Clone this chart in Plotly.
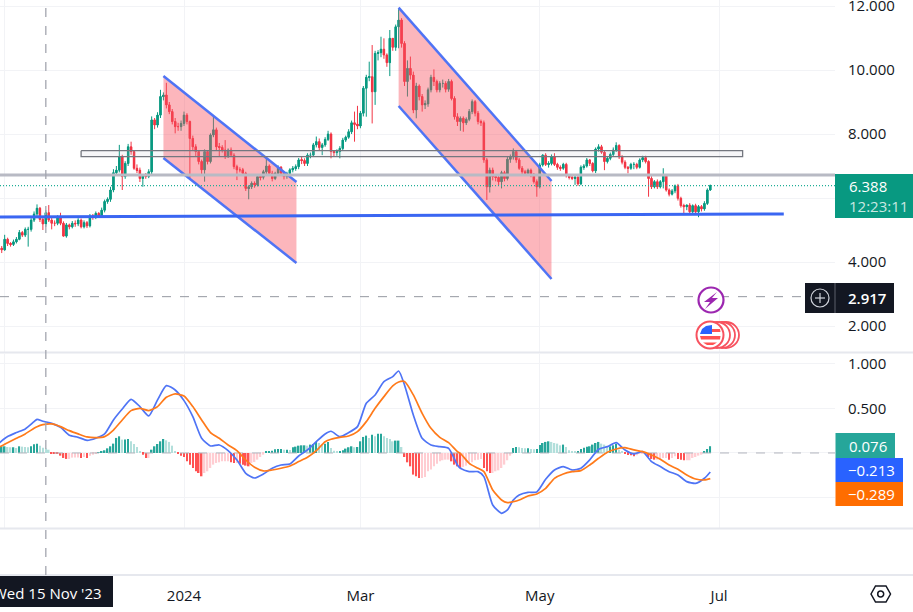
"""Daily candles with channel drawings and a MACD pane, TradingView look."""

import pandas as pd
import plotly.graph_objects as go

# --- daily candles, 30 Oct 2023 to 28 Jun 2024 ---
start_date = "2023-10-30"

opens = [
    4.48, 4.43, 4.38, 4.71, 4.58, 4.55, 4.63, 4.71, 4.92, 4.84,
    5.02, 5.02, 5.31, 5.50, 5.68, 5.33, 5.19, 5.54, 5.31, 5.21,
    5.21, 5.40, 5.21, 4.81, 5.16, 5.10, 5.21, 5.19, 5.31, 5.10,
    5.23, 5.13, 5.44, 5.40, 5.52, 5.44, 5.62, 5.89, 5.96, 6.25,
    6.79, 6.87, 7.29, 6.67, 7.08, 7.60, 7.45, 6.93, 6.87, 6.61,
    6.72, 6.67, 6.82, 8.44, 8.28, 8.59, 9.17, 9.22, 8.91, 8.70,
    8.39, 8.23, 8.23, 8.33, 8.59, 8.39, 7.86, 7.60, 7.45, 7.14,
    6.88, 7.45, 7.14, 7.97, 8.13, 7.60, 7.58, 7.50, 7.31, 7.50,
    7.34, 6.98, 6.88, 6.88, 6.77, 6.30, 6.35, 6.46, 6.41, 6.67,
    6.65, 6.82, 7.00, 6.77, 6.61, 6.77, 6.96, 6.77, 6.67, 6.77,
    6.88, 6.93, 6.98, 7.19, 7.17, 7.08, 7.34, 7.34, 7.66, 7.76,
    7.58, 7.66, 7.83, 8.00, 7.45, 7.42, 7.45, 7.55, 7.81, 7.90,
    8.07, 8.35, 8.31, 8.25, 8.65, 9.43, 9.77, 9.79, 9.32, 10.52,
    10.54, 10.65, 10.47, 10.23, 10.99, 10.71, 11.35, 11.56, 10.83, 9.64,
    10.05, 9.84, 8.75, 9.50, 9.17, 8.91, 8.94, 9.38, 9.77, 9.64,
    9.38, 9.58, 9.58, 9.40, 9.64, 9.11, 8.54, 8.39, 8.49, 8.35,
    8.46, 8.70, 9.01, 8.65, 8.39, 8.35, 7.19, 6.35, 6.87, 6.67,
    6.64, 6.51, 6.79, 6.61, 7.21, 7.29, 7.45, 7.19, 6.93, 6.82,
    6.77, 6.87, 6.72, 6.51, 6.35, 7.03, 7.34, 7.05, 7.08, 7.29,
    7.05, 6.96, 6.93, 7.05, 6.70, 6.65, 6.62, 6.65, 6.44, 6.96,
    7.00, 7.19, 7.08, 6.85, 7.53, 7.60, 7.43, 7.14, 7.24, 7.36,
    7.50, 7.64, 7.29, 7.12, 6.96, 6.93, 7.05, 7.05, 6.96, 7.19,
    7.26, 7.14, 6.61, 6.35, 6.51, 6.35, 6.51, 6.70, 6.25, 6.12,
    6.22, 6.38, 5.99, 5.76, 5.73, 5.78, 5.57, 5.76, 5.57, 5.73,
    5.66, 5.83, 6.25,
]
highs = [
    4.55, 4.50, 4.85, 4.76, 4.62, 4.70, 4.78, 5.00, 4.97, 5.08,
    5.10, 5.37, 5.58, 5.80, 5.72, 5.40, 5.62, 5.78, 5.40, 5.30,
    5.46, 5.54, 5.27, 5.22, 5.20, 5.28, 5.30, 5.37, 5.36, 5.30,
    5.28, 5.50, 5.50, 5.58, 5.56, 5.70, 5.95, 6.02, 6.35, 6.90,
    7.00, 7.66, 7.35, 7.15, 7.69, 7.76, 7.50, 7.05, 6.95, 6.75,
    6.78, 6.90, 8.55, 8.50, 8.68, 9.38, 9.30, 9.60, 9.00, 8.78,
    8.50, 8.35, 8.42, 8.70, 8.65, 8.42, 7.95, 7.68, 7.50, 7.20,
    7.52, 7.50, 8.02, 8.59, 8.20, 7.72, 7.65, 7.81, 7.55, 7.58,
    7.40, 7.04, 6.96, 6.94, 6.82, 6.40, 6.52, 6.52, 6.72, 6.72,
    6.88, 7.29, 7.05, 6.85, 6.82, 7.02, 7.00, 6.82, 6.82, 6.93,
    7.00, 7.05, 7.25, 7.28, 7.24, 7.40, 7.42, 7.72, 7.92, 7.86,
    7.72, 7.90, 8.10, 8.05, 7.50, 7.52, 7.62, 7.88, 7.95, 8.15,
    8.42, 8.70, 8.88, 8.72, 9.50, 9.85, 10.26, 10.78, 10.60, 10.62,
    11.04, 10.99, 10.52, 11.25, 10.99, 11.42, 11.90, 11.62, 10.90, 10.30,
    10.42, 9.95, 9.60, 9.55, 9.25, 9.05, 9.45, 9.85, 10.02, 9.70,
    9.65, 9.70, 9.65, 9.72, 9.70, 9.18, 8.65, 8.55, 8.55, 8.52,
    8.78, 9.08, 9.06, 8.72, 8.45, 8.42, 7.25, 6.95, 6.95, 6.75,
    6.70, 6.85, 6.85, 7.28, 7.36, 7.55, 7.50, 7.25, 7.00, 6.88,
    6.92, 6.92, 6.78, 6.58, 7.10, 7.37, 7.40, 7.15, 7.36, 7.40,
    7.10, 7.02, 7.10, 7.10, 6.74, 6.70, 6.70, 6.72, 7.02, 7.06,
    7.25, 7.22, 7.12, 7.58, 7.68, 7.66, 7.48, 7.30, 7.42, 7.58,
    7.74, 7.68, 7.34, 7.18, 7.00, 7.10, 7.12, 7.10, 7.24, 7.32,
    7.32, 7.18, 6.68, 6.56, 6.58, 6.56, 6.93, 6.75, 6.30, 6.28,
    6.42, 6.44, 6.04, 5.82, 5.80, 5.84, 5.80, 5.82, 5.78, 5.78,
    5.90, 6.30, 6.42,
]
lows = [
    4.33, 4.28, 4.35, 4.50, 4.48, 4.50, 4.58, 4.68, 4.78, 4.78,
    4.48, 4.95, 5.25, 5.42, 5.25, 5.00, 5.10, 5.25, 5.02, 5.12,
    5.15, 5.15, 4.79, 4.76, 5.02, 5.05, 5.10, 5.12, 5.05, 5.05,
    5.06, 5.08, 5.32, 5.34, 5.38, 5.40, 5.55, 5.82, 5.88, 6.18,
    6.70, 6.80, 6.25, 6.60, 7.00, 7.35, 6.88, 6.78, 6.50, 6.35,
    6.60, 6.62, 6.75, 8.15, 8.20, 8.50, 9.05, 8.80, 8.62, 8.30,
    8.02, 8.10, 8.10, 8.25, 8.30, 6.61, 7.50, 7.30, 7.05, 6.75,
    6.51, 7.05, 7.08, 7.90, 7.50, 7.30, 7.42, 7.22, 7.25, 7.28,
    6.90, 6.56, 6.80, 6.70, 6.22, 5.96, 6.28, 6.32, 6.36, 6.55,
    6.58, 6.75, 6.70, 6.52, 6.56, 6.70, 6.70, 6.58, 6.60, 6.70,
    6.80, 6.85, 6.90, 7.06, 7.00, 7.00, 7.24, 7.28, 7.58, 7.50,
    7.34, 7.60, 7.78, 7.24, 7.30, 7.32, 7.24, 7.48, 7.75, 7.85,
    8.00, 7.76, 8.15, 8.18, 8.55, 8.54, 9.65, 8.33, 8.91, 10.30,
    10.40, 10.35, 10.10, 9.81, 10.60, 10.60, 10.68, 10.70, 9.50, 9.17,
    9.70, 8.65, 8.49, 9.05, 8.70, 8.78, 8.85, 9.30, 9.50, 9.30,
    9.30, 9.45, 9.30, 9.32, 9.05, 8.45, 8.25, 8.10, 8.07, 8.28,
    8.40, 8.62, 8.55, 8.30, 8.25, 7.10, 5.94, 6.17, 6.55, 6.52,
    6.40, 6.30, 6.52, 6.55, 7.10, 7.20, 7.10, 6.88, 6.75, 6.70,
    6.70, 6.65, 6.45, 6.04, 6.30, 6.98, 7.00, 6.95, 7.02, 7.00,
    6.88, 6.85, 6.88, 6.64, 6.58, 6.56, 6.41, 6.38, 6.40, 6.88,
    6.95, 7.00, 6.80, 6.78, 7.45, 7.38, 6.87, 7.08, 7.18, 7.30,
    7.44, 7.22, 7.05, 6.90, 6.77, 6.88, 6.90, 6.90, 6.92, 7.12,
    7.08, 6.04, 6.28, 6.30, 6.28, 6.30, 6.30, 6.20, 6.05, 6.08,
    6.15, 5.92, 5.70, 5.49, 5.62, 5.52, 5.52, 5.50, 5.40, 5.58,
    5.60, 5.78, 6.22,
]
closes = [
    4.43, 4.38, 4.71, 4.58, 4.55, 4.63, 4.71, 4.92, 4.84, 5.02,
    5.02, 5.31, 5.50, 5.68, 5.33, 5.19, 5.54, 5.31, 5.21, 5.21,
    5.40, 5.21, 4.81, 5.16, 5.10, 5.21, 5.19, 5.31, 5.10, 5.23,
    5.13, 5.44, 5.40, 5.52, 5.44, 5.62, 5.89, 5.96, 6.25, 6.79,
    6.87, 7.29, 6.67, 7.08, 7.60, 7.45, 6.93, 6.87, 6.61, 6.72,
    6.67, 6.82, 8.44, 8.28, 8.59, 9.17, 9.22, 8.91, 8.70, 8.39,
    8.23, 8.23, 8.33, 8.59, 8.39, 7.86, 7.60, 7.45, 7.14, 6.88,
    7.45, 7.14, 7.97, 8.13, 7.60, 7.58, 7.50, 7.31, 7.50, 7.34,
    6.98, 6.88, 6.88, 6.77, 6.30, 6.35, 6.46, 6.41, 6.67, 6.65,
    6.82, 7.00, 6.77, 6.61, 6.77, 6.96, 6.77, 6.67, 6.77, 6.88,
    6.93, 6.98, 7.19, 7.17, 7.08, 7.34, 7.34, 7.66, 7.76, 7.58,
    7.66, 7.83, 8.00, 7.45, 7.42, 7.45, 7.55, 7.81, 7.90, 8.07,
    8.35, 8.31, 8.25, 8.65, 9.43, 9.77, 9.79, 9.32, 10.52, 10.54,
    10.65, 10.47, 10.23, 10.99, 10.71, 11.35, 11.56, 10.83, 9.64, 10.05,
    9.84, 8.75, 9.50, 9.17, 8.91, 8.94, 9.38, 9.77, 9.64, 9.38,
    9.58, 9.58, 9.40, 9.64, 9.11, 8.54, 8.39, 8.49, 8.35, 8.46,
    8.70, 9.01, 8.65, 8.39, 8.35, 7.19, 6.35, 6.87, 6.67, 6.64,
    6.51, 6.79, 6.61, 7.21, 7.29, 7.45, 7.19, 6.93, 6.82, 6.77,
    6.87, 6.72, 6.51, 6.35, 7.03, 7.34, 7.05, 7.08, 7.29, 7.05,
    6.96, 6.93, 7.05, 6.70, 6.65, 6.62, 6.65, 6.44, 6.96, 7.00,
    7.19, 7.08, 6.85, 7.53, 7.60, 7.43, 7.14, 7.24, 7.36, 7.50,
    7.64, 7.29, 7.12, 6.96, 6.93, 7.05, 7.05, 6.96, 7.19, 7.26,
    7.14, 6.61, 6.35, 6.51, 6.35, 6.51, 6.70, 6.25, 6.12, 6.22,
    6.38, 5.99, 5.76, 5.73, 5.78, 5.57, 5.76, 5.57, 5.73, 5.66,
    5.83, 6.25, 6.388,
]

# --- MACD pane ---
macd_hist = [
    0.045, 0.075, 0.075, 0.067, 0.064, 0.064, 0.056, 0.075, 0.071, 0.067,
    0.064, 0.075, 0.097, 0.105, 0.082, 0.060, 0.049, 0.037, -0.004, -0.007,
    -0.011, -0.030, -0.056, -0.067, -0.067, -0.052, -0.052, -0.052, -0.056, -0.045,
    -0.056, -0.030, -0.019, -0.007, 0.002, 0.011, 0.030, 0.052, 0.075, 0.105,
    0.169, 0.187, 0.150, 0.150, 0.157, 0.131, 0.101, 0.067, 0.011, -0.019,
    -0.056, -0.056, 0.037, 0.075, 0.101, 0.131, 0.157, 0.142, 0.124, 0.082,
    0.019, -0.007, -0.030, -0.045, -0.094, -0.131, -0.169, -0.206, -0.225, -0.262,
    -0.225, -0.206, -0.169, -0.131, -0.112, -0.105, -0.094, -0.094, -0.094, -0.105,
    -0.112, -0.112, -0.120, -0.131, -0.142, -0.150, -0.112, -0.101, -0.075, -0.045,
    -0.019, 0.011, 0.019, 0.026, 0.041, 0.045, 0.045, 0.037, 0.037, 0.034,
    0.064, 0.071, 0.082, 0.086, 0.086, 0.082, 0.094, 0.101, 0.124, 0.112,
    0.094, 0.105, 0.124, 0.056, 0.026, 0.011, 0.015, 0.030, 0.049, 0.064,
    0.075, 0.064, 0.067, 0.131, 0.180, 0.195, 0.169, 0.206, 0.187, 0.217,
    0.217, 0.187, 0.169, 0.157, 0.131, 0.139, 0.139, 0.067, -0.045, -0.105,
    -0.150, -0.243, -0.262, -0.281, -0.281, -0.270, -0.206, -0.187, -0.150, -0.120,
    -0.094, -0.082, -0.075, -0.075, -0.094, -0.131, -0.150, -0.169, -0.157, -0.142,
    -0.112, -0.105, -0.082, -0.075, -0.067, -0.169, -0.206, -0.225, -0.225, -0.206,
    -0.195, -0.169, -0.131, -0.082, -0.030, 0.056, 0.067, 0.064, 0.056, 0.052,
    0.052, 0.045, 0.041, 0.045, 0.090, 0.112, 0.124, 0.131, 0.124, 0.112,
    0.105, 0.086, 0.094, 0.067, 0.030, 0.019, 0.015, 0.019, 0.045, 0.060,
    0.071, 0.075, 0.094, 0.112, 0.124, 0.105, 0.094, 0.075, 0.075, 0.086,
    0.105, 0.037, 0.011, -0.011, -0.022, -0.026, -0.037, -0.026, -0.011, -0.002,
    -0.007, -0.045, -0.067, -0.075, -0.075, -0.075, -0.056, -0.056, -0.075, -0.056,
    -0.037, -0.067, -0.075, -0.082, -0.082, -0.082, -0.056, -0.045, -0.030, -0.019,
    0.011, 0.045, 0.076,
]
macd_line_bars = [
    0, 3, 6, 9, 12, 13, 15, 18, 21, 24, 27, 30, 33, 36, 39, 42, 45, 48, 51, 54,
    57, 60, 63, 66, 69, 72, 75, 78, 81, 84, 87, 90, 93, 96, 99, 102, 105, 108, 111, 113,
    116, 119, 122, 125, 128, 131, 134, 136, 138, 141, 144, 147, 150, 153, 156,
    157, 160, 163, 165, 168, 171, 173, 175, 177, 180, 183, 186, 189, 192, 195,
    198, 201, 204, 207, 210, 213, 216, 219, 222, 225, 228, 231, 234, 237, 240, 242,
]
macd_line = [
    0.109, 0.184, 0.229, 0.270, 0.352, 0.378, 0.356, 0.333, 0.288, 0.199,
    0.176, 0.142, 0.165, 0.214, 0.371, 0.494, 0.603, 0.521, 0.416, 0.596,
    0.757, 0.708, 0.588, 0.408, 0.165, 0.079, 0.090, 0.026, -0.079, -0.228,
    -0.281, -0.236, -0.172, -0.135, -0.124, -0.034, 0.034, 0.127, 0.214, 0.244,
    0.184, 0.229, 0.296, 0.558, 0.652, 0.802, 0.858, 0.921, 0.764, 0.427,
    0.165, 0.090, 0.071, 0.052, -0.135,
    -0.172, -0.210, -0.210, -0.266, -0.584, -0.678, -0.640, -0.528, -0.472, -0.442,
    -0.438, -0.296, -0.191, -0.153, -0.191, -0.172, -0.078, 0.041, 0.071, 0.116,
    0.034, -0.011, 0.015, -0.097, -0.153, -0.210, -0.247, -0.322, -0.341, -0.284,
    -0.213,
]
signal_line = [
    0.064, 0.116, 0.165, 0.214, 0.277, 0.295, 0.318, 0.326, 0.296, 0.251,
    0.214, 0.180, 0.172, 0.184, 0.258, 0.371, 0.476, 0.502, 0.476, 0.521,
    0.626, 0.663, 0.640, 0.521, 0.371, 0.229, 0.165, 0.090, 0.026, -0.079,
    -0.161, -0.202, -0.191, -0.172, -0.146, -0.097, -0.049, 0.026, 0.127, 0.154,
    0.176, 0.191, 0.240, 0.352, 0.502, 0.633, 0.753, 0.798, 0.802, 0.652,
    0.446, 0.277, 0.176, 0.116, 0.015,
    -0.004, -0.116, -0.172, -0.210, -0.416, -0.528, -0.558, -0.547, -0.528, -0.483,
    -0.460, -0.397, -0.285, -0.236, -0.210, -0.198, -0.135, -0.060, 0.008, 0.045,
    0.060, 0.034, 0.015, -0.022, -0.071, -0.135, -0.183, -0.247, -0.292, -0.303,
    -0.289,
]

# --- drawings on the price pane ---
channel_1_dates = ["2023-12-25", "2024-02-08 06:00", "2024-02-08 06:00", "2023-12-25"]
channel_1_prices = [9.81, 6.50, 3.97, 7.25]
channel_2_dates = ["2024-03-14", "2024-05-05", "2024-05-05", "2024-03-14"]
channel_2_prices = [11.95, 6.53, 3.47, 8.875]
box_dates = ["2023-11-27", "2024-07-09", "2024-07-09", "2023-11-27", "2023-11-27"]
box_prices = [7.48, 7.48, 7.29, 7.29, 7.48]
resistance_dates = ["2023-10-30", "2024-08-10"]
resistance_prices = [6.72, 6.72]
support_dates = ["2023-10-30", "2024-07-23"]
support_prices = [5.41, 5.50]
last_price = 6.388
cross_price = 2.917
cross_date = "2023-11-15"

# --- axis labels ---
x_range = ["2023-10-30 10:00", "2024-08-09 10:00"]
x_ticks = ["2023-11-01", "2024-01-01", "2024-03-01", "2024-05-01", "2024-07-01"]
x_labels = ["", "2024", "Mar", "May", "Jul"]
price_ticks = [2, 4, 6, 8, 10, 12]
price_labels = ["2.000", "4.000", "", "8.000", "10.000", "12.000"]
macd_ticks = [-0.5, 0, 0.5, 1]
macd_labels = ["", "", "0.500", "1.000"]

WIDTH, HEIGHT = 913, 612
PLOT_RIGHT = 835
FONT = "Open Sans"
INK = "#131722"
UP, DOWN = "#089981", "#f23645"
GRID = "#f2f3f6"
SEP = "#e6e8ee"
BLUE = "#4f74f5"
ORANGE = "#ff7a1a"


def px(x):
    return x / WIDTH


def py(y):
    return 1 - y / HEIGHT


def box_shape(x0, y0, x1, y1, color):
    return dict(type="rect", xref="paper", yref="paper", x0=px(x0), x1=px(x1),
                y0=py(y0), y1=py(y1), fillcolor=color, line=dict(width=0), layer="above")


def disc(cx, cy, r, fill, line_color, width=2):
    return dict(type="circle", xref="paper", yref="paper", x0=px(cx - r), x1=px(cx + r),
                y0=py(cy + r), y1=py(cy - r), fillcolor=fill,
                line=dict(color=line_color, width=width), layer="above")


def outline(points, fill=None, line_color=None, width=1.5):
    path = "M " + " L ".join(f"{px(x):.5f} {py(y):.5f}" for x, y in points) + " Z"
    return dict(type="path", xref="paper", yref="paper", path=path, fillcolor=fill,
                line=dict(color=line_color, width=width if line_color else 0), layer="above")


def label(x, y, text, color="white", size=15, anchor="left", weight=400):
    return dict(xref="paper", yref="paper", x=px(x), y=py(y), text=text, showarrow=False,
                xanchor=anchor, yanchor="middle", align=anchor,
                font=dict(family=FONT, size=size, color=color, weight=weight))


dates = pd.date_range(start_date, periods=len(closes), freq="D")
line_dates = dates[macd_line_bars]

# histogram shades follow the usual rising / falling rule
hist_colors = []
for n, value in enumerate(macd_hist):
    rising = n == 0 or value >= macd_hist[n - 1]
    if value >= 0:
        hist_colors.append("#26a69a" if rising else "#b2dfdb")
    else:
        hist_colors.append("#ffcdd2" if rising else "#ff5252")

fig = go.Figure()

# plotly's candle boxes come out narrow at this density, so bars widen the bodies
body_base = [min(o, c) for o, c in zip(opens, closes)]
body_size = [abs(c - o) for o, c in zip(opens, closes)]
body_colors = [UP if c >= o else DOWN for o, c in zip(opens, closes)]
fig.add_trace(go.Bar(
    x=dates, y=body_size, base=body_base, width=62000000,
    marker=dict(color=body_colors, line=dict(width=0)), xaxis="x", yaxis="y",
))
fig.add_trace(go.Candlestick(
    x=dates, open=opens, high=highs, low=lows, close=closes,
    increasing=dict(line=dict(color=UP, width=1), fillcolor=UP),
    decreasing=dict(line=dict(color=DOWN, width=1), fillcolor=DOWN),
    xaxis="x", yaxis="y", hoverinfo="skip",
))

# channels sit on top of the candles
for ch_dates, ch_prices in [(channel_1_dates, channel_1_prices), (channel_2_dates, channel_2_prices)]:
    fig.add_trace(go.Scatter(
        x=ch_dates, y=ch_prices, mode="lines", fill="toself",
        fillcolor="rgba(247,82,95,0.42)", line=dict(width=0), xaxis="x", yaxis="y",
    ))
    fig.add_trace(go.Scatter(
        x=ch_dates[:2], y=ch_prices[:2], mode="lines",
        line=dict(color=BLUE, width=2.5), xaxis="x", yaxis="y",
    ))
    fig.add_trace(go.Scatter(
        x=ch_dates[2:], y=ch_prices[2:], mode="lines",
        line=dict(color=BLUE, width=2.5), xaxis="x", yaxis="y",
    ))

fig.add_trace(go.Scatter(
    x=box_dates, y=box_prices, mode="lines", fill="toself",
    fillcolor="rgba(180,184,195,0.12)", line=dict(color="#74777f", width=1.3), xaxis="x", yaxis="y",
))
fig.add_trace(go.Scatter(
    x=resistance_dates, y=resistance_prices, mode="lines",
    line=dict(color="#b8bac4", width=3), xaxis="x", yaxis="y",
))
fig.add_trace(go.Scatter(
    x=support_dates, y=support_prices, mode="lines",
    line=dict(color="#3a66f2", width=3), xaxis="x", yaxis="y",
))
fig.add_trace(go.Scatter(
    x=x_range, y=[last_price, last_price], mode="lines",
    line=dict(color="#1fae96", width=1.2, dash="1px,2px"), xaxis="x", yaxis="y",
))
fig.add_trace(go.Scatter(
    x=[x_range[0], "2024-08-01"], y=[cross_price, cross_price], mode="lines",
    line=dict(color="#9598a1", width=1, dash="dash"), xaxis="x", yaxis="y",
))

fig.add_trace(go.Scatter(
    x=x_range, y=[0, 0], mode="lines",
    line=dict(color="#b2b5be", width=1, dash="dash"), xaxis="x2", yaxis="y2",
))
fig.add_trace(go.Bar(
    x=dates, y=macd_hist, marker=dict(color=hist_colors, line=dict(width=0)),
    width=45000000, xaxis="x2", yaxis="y2",
))
fig.add_trace(go.Scatter(
    x=line_dates, y=macd_line, mode="lines",
    line=dict(color=BLUE, width=1.7, shape="spline", smoothing=0.6), xaxis="x2", yaxis="y2",
))
fig.add_trace(go.Scatter(
    x=line_dates, y=signal_line, mode="lines",
    line=dict(color=ORANGE, width=1.7, shape="spline", smoothing=0.6), xaxis="x2", yaxis="y2",
))
# the empty bottom pane only carries the date labels
fig.add_trace(go.Scatter(x=x_range, y=[None, None], mode="lines", xaxis="x3", yaxis="y3"))

shapes = [
    # pane separators
    dict(type="line", xref="paper", yref="paper", x0=0, x1=1, y0=py(352.5), y1=py(352.5),
         line=dict(color=SEP, width=2), layer="above"),
    dict(type="line", xref="paper", yref="paper", x0=0, x1=1, y0=py(528.5), y1=py(528.5),
         line=dict(color=SEP, width=2), layer="above"),
    dict(type="line", xref="paper", yref="paper", x0=0, x1=1, y0=py(575), y1=py(575),
         line=dict(color=SEP, width=2), layer="above"),
    # crosshair
    dict(type="line", xref="x", yref="paper", x0=cross_date, x1=cross_date, y0=py(575), y1=1,
         line=dict(color="#a3a6af", width=1.3, dash="dash"), layer="above"),
    # price scale labels
    box_shape(835, 174, 913, 218, UP),
    dict(type="rect", xref="paper", yref="paper", x0=px(805), x1=px(894), y0=py(313), y1=py(283),
         fillcolor=INK, line=dict(width=0), layer="above"),
    dict(type="line", xref="paper", yref="paper", x0=px(835), x1=px(835), y0=py(313), y1=py(283),
         line=dict(color="#5d606b", width=1), layer="above"),
    disc(820, 298, 9, INK, "#d1d4dc", 1.2),
    dict(type="line", xref="paper", yref="paper", x0=px(815), x1=px(825), y0=py(298), y1=py(298),
         line=dict(color="#d1d4dc", width=1.2), layer="above"),
    dict(type="line", xref="paper", yref="paper", x0=px(820), x1=px(820), y0=py(293), y1=py(303),
         line=dict(color="#d1d4dc", width=1.2), layer="above"),
    box_shape(835.5, 433, 895, 458, "#26a69a"),
    box_shape(835.5, 458, 903, 482, "#2962ff"),
    box_shape(835.5, 482, 903, 506, "#ff6d00"),
    # date label under the crosshair
    box_shape(0, 576, 113, 607, INK),
    # lightning marker
    disc(711, 300, 12.5, "white", "#9c27b0", 2.2),
    outline([(717, 292), (704, 302), (710, 302), (705, 309), (718, 298), (712, 298)], fill="#9c27b0"),
    # flag markers
    disc(726, 335, 13, "white", "#f7525f", 1.8),
    disc(722, 335, 13, "white", "#f7525f", 1.8),
    disc(717, 335, 13, "white", "#f7525f", 1.8),
    disc(710, 335, 13.5, "white", "#f7525f", 2),
    outline([(712, 329), (720, 329), (720.5, 332), (712, 332)], fill="#ff5252"),
    outline([(700, 336), (720.5, 336), (720, 339.5), (701, 339.5)], fill="#ff5252"),
    outline([(703, 342.5), (717, 342.5), (713, 345), (707, 345)], fill="#ff5252"),
    outline([(700, 334), (712, 334), (712, 325), (706, 326), (702, 329)], fill="#2962ff"),
    # settings icon
    outline([(871, 594), (875.5, 586), (886, 586), (890.5, 594), (886, 602), (875.5, 602)],
            line_color=INK, width=1.5),
    disc(880.7, 594, 3, "white", INK, 1.5),
]

annotations = [
    label(847, 186, "6.388", weight=500),
    label(847, 206, "12:23:11", color="#c8e8e2"),
    label(867, 298, "2.917", anchor="center", weight=600),
    label(889, 445.5, "0.076", anchor="right", weight=500),
    label(897, 470, "\u22120.213", anchor="right", weight=500),
    label(897, 494, "\u22120.289", anchor="right", weight=500),
    label(47, 593, "Wed 15 Nov '23", anchor="center", weight=500),
]

x_common = dict(range=x_range, type="date", tickvals=x_ticks, ticktext=x_labels,
                showgrid=True, gridcolor=GRID, gridwidth=1, zeroline=False, showline=False)
y_common = dict(side="right", showgrid=True, gridcolor=GRID, gridwidth=1, zeroline=False,
                showline=False, ticks="outside", ticklen=9, tickcolor="rgba(0,0,0,0)",
                ticklabeloverflow="allow", tickfont=dict(family=FONT, size=15, color=INK))

fig.update_layout(
    width=WIDTH,
    height=HEIGHT,
    margin=dict(l=0, r=0, t=0, b=0, autoexpand=False),
    paper_bgcolor="white",
    plot_bgcolor="white",
    showlegend=False,
    hovermode=False,
    font=dict(family=FONT, color=INK),
    shapes=shapes,
    annotations=annotations,
    xaxis=dict(domain=[0, px(PLOT_RIGHT)], anchor="y", showticklabels=False, ticks="",
               rangeslider=dict(visible=False), **x_common),
    xaxis2=dict(domain=[0, px(PLOT_RIGHT)], anchor="y2", showticklabels=False, ticks="", **x_common),
    xaxis3=dict(domain=[0, px(PLOT_RIGHT)], anchor="y3", range=x_range, type="date",
                tickvals=x_ticks, ticktext=x_labels, showgrid=False, zeroline=False,
                ticks="outside", ticklen=7, tickcolor="rgba(0,0,0,0)",
                tickangle=0, tickfont=dict(family=FONT, size=15, color=INK)),
    yaxis=dict(domain=[py(352), 1], range=[1.1875, 12.1875], tickvals=price_ticks,
               ticktext=price_labels, anchor="x", **y_common),
    yaxis2=dict(domain=[py(528), py(354)], range=[-0.843, 1.112], tickvals=macd_ticks,
                ticktext=macd_labels, anchor="x2", **y_common),
    yaxis3=dict(domain=[py(575), py(529)], range=[0, 1], visible=False, anchor="x3"),
)

fig.write_html("out.html", config={"displayModeBar": False},
               post_script="document.body.style.margin='0';")
